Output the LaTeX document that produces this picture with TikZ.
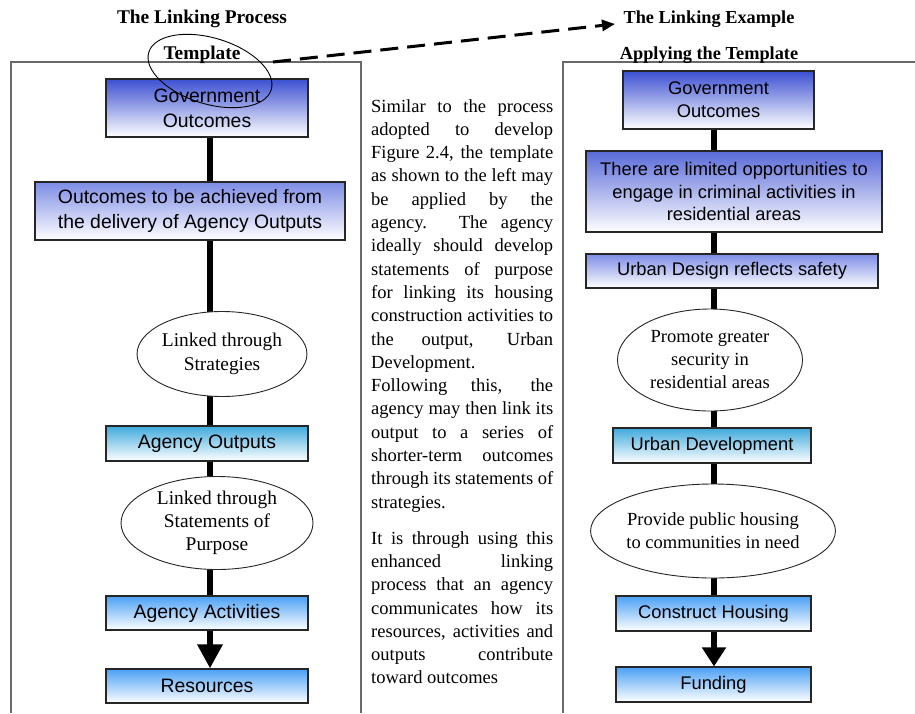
\documentclass[tikz,border=0pt]{standalone}
\usepackage{fontspec}
\setmainfont{Liberation Serif}
\setsansfont{Liberation Sans}
\usetikzlibrary{shapes.geometric,arrows.meta,backgrounds}
\definecolor{govblue}{RGB}{60,80,210}
\definecolor{periblue}{RGB}{125,140,230}
\definecolor{tealblue}{RGB}{64,170,220}
\definecolor{skyblue}{RGB}{74,160,245}
\definecolor{framegray}{RGB}{105,105,105}
\newcommand{\jline}[1]{\makebox[182pt][s]{#1}}
\begin{document}
\begin{tikzpicture}[x=1pt,y=-1pt,
  box/.style={draw=black!85, line width=1.1pt, inner sep=0pt, align=center,
    bottom color=white, font=\sffamily\fontsize{19.4}{25}\selectfont},
  rbox/.style={box, font=\sffamily\fontsize{18.3}{22.8}\selectfont},
  oval/.style={draw=black!85, line width=0.9pt, ellipse, fill=white, inner sep=0pt,
    align=center, font=\fontsize{19.4}{23.3}\selectfont},
  roval/.style={oval, font=\fontsize{18.5}{23}\selectfont},
  link/.style={line width=6pt, black},
  frame/.style={framegray, line width=1.2pt},
  ttl/.style={anchor=base, inner sep=0pt, font=\bfseries\fontsize{19.4}{23}\selectfont},
  rttl/.style={ttl, font=\bfseries\fontsize{18.3}{22}\selectfont}
]
\useasboundingbox (0,0) rectangle (915,713);

% frames
\draw[frame] (11,713) -- (11,62) -- (361,62) -- (361,713);
\draw[frame] (563,713) -- (563,62) -- (915,62);

% titles
\node[ttl] (t1) at (202,23) {The Linking Process};
\node[ttl] (t2) at (202,59) {Template};
\node[rttl] (t3) at (709,23) {The Linking Example};
\node[rttl] (t4) at (709,59) {Applying the Template};

% left column
\node[box, top color=govblue, minimum width=202, minimum height=58] (gov1) at (207,108) {Government\\Outcomes};
\node[box, top color=periblue, minimum width=310, minimum height=58] (out1) at (190,211) {Outcomes to be achieved from\\the delivery of Agency Outputs};
\node[oval, minimum width=166, minimum height=85] (ell1) at (222,354) {Linked through\\Strategies};
\node[box, top color=tealblue, minimum width=202, minimum height=35] (aout) at (207,443.5) {Agency Outputs};
\node[oval, minimum width=192, minimum height=93] (ell2) at (217,523) {Linked through\\Statements of\\Purpose};
\node[box, top color=skyblue, minimum width=202, minimum height=34] (aact) at (207,613) {Agency Activities};
\node[box, top color=skyblue, minimum width=202, minimum height=34] (res) at (207,686) {Resources};

% right column
\node[rbox, top color=govblue, minimum width=191, minimum height=58] (gov2) at (718.5,100) {Government\\Outcomes};
\node[rbox, top color=govblue!85!white, minimum width=296, minimum height=81] (lim) at (734,191.5) {There are limited opportunities to\\engage in criminal activities in\\residential areas};
\node[rbox, top color=periblue, minimum width=292, minimum height=34] (udes) at (732,271) {Urban Design reflects safety};
\node[roval, minimum width=185, minimum height=102] (ell3) at (710,360) {Promote greater\\security in\\residential areas};
\node[rbox, top color=tealblue, minimum width=198, minimum height=35] (udev) at (712,445.5) {Urban Development};
\node[roval, minimum width=208, minimum height=94] (ell4) at (713,531) {Provide public housing\\to communities in need};
\node[rbox, top color=skyblue, minimum width=195, minimum height=35] (cons) at (713.5,613.5) {Construct Housing};
\node[rbox, top color=skyblue, minimum width=195, minimum height=35] (fund) at (713.5,684.5) {Funding};

% spines
\coordinate (spL) at (210,0);
\coordinate (spR) at (714,0);

\begin{scope}[on background layer]
\draw[link] (gov1.center -| spL) -- (out1.center -| spL);
\draw[link] (out1.center -| spL) -- (ell1.center -| spL);
\draw[link] (ell1.center -| spL) -- (aout.center -| spL);
\draw[link] (aout.center -| spL) -- (ell2.center -| spL);
\draw[link] (ell2.center -| spL) -- (aact.center -| spL);
\draw[link] (gov2.center -| spR) -- (lim.center -| spR);
\draw[link] (lim.center -| spR) -- (udes.center -| spR);
\draw[link] (udes.center -| spR) -- (ell3.center -| spR);
\draw[link] (ell3.center -| spR) -- (udev.center -| spR);
\draw[link] (udev.center -| spR) -- (ell4.center -| spR);
\draw[link] (ell4.center -| spR) -- (cons.center -| spR);
\end{scope}
\draw[link, -{Triangle[length=24pt,width=24pt]}] (aact.south -| spL) -- (res.north -| spL);
\draw[link, -{Triangle[length=19pt,width=23pt]}] (cons.south -| spR) -- (fund.north -| spR);

% template ring and dashed arrow
\node[draw, ellipse, line width=0.9pt, minimum width=128, minimum height=66, inner sep=0pt, rotate=-17] (ring) at (210,71) {};
\coordinate (dstart) at (273,62);
\coordinate (dend) at (615,24);
\draw[line width=3pt, dash pattern=on 18pt off 9pt, -{Triangle[length=13pt,width=11pt]}] (dstart) -- (dend);

% middle text
\node[anchor=base west, inner sep=0pt, font=\fontsize{18.5}{23.3}\selectfont] (para) at (371,112) {\parbox[t]{182pt}{%
\jline{Similar to the process}\\
\jline{adopted to develop}\\
\jline{Figure 2.4, the template}\\
\jline{as shown to the left may}\\
\jline{be applied by the}\\
\jline{agency. The agency}\\
\jline{ideally should develop}\\
\jline{statements of purpose}\\
\jline{for linking its housing}\\
\jline{construction activities to}\\
\jline{the output, Urban}\\
Development.\\
\jline{Following this, the}\\
\jline{agency may then link its}\\
\jline{output to a series of}\\
\jline{shorter-term outcomes}\\
\jline{through its statements of}\\
strategies.\\[12.7pt]
\jline{It is through using this}\\
\jline{enhanced linking}\\
\jline{process that an agency}\\
\jline{communicates how its}\\
\jline{resources, activities and}\\
\jline{outputs contribute}\\
toward outcomes}};
\end{tikzpicture}
\end{document}
